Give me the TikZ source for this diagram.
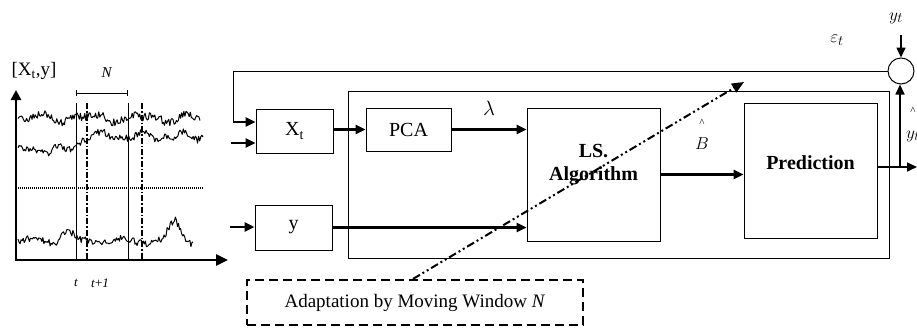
\documentclass[tikz,border=0pt]{standalone}
\usepackage{fontspec}
\setmainfont{Liberation Serif}
\usetikzlibrary{arrows.meta}
\newcommand\setfs[1]{\fontsize{#1}{#1}\selectfont}
\begin{document}
\begin{tikzpicture}[x=1pt,y=-1pt,
  thinln/.style={line width=1pt},
  thickln/.style={line width=2.4pt},
  midln/.style={line width=1.6pt},
  tip/.style={-{Triangle[length=10pt,width=9pt]}},
  blk/.style={draw, line width=1pt, inner sep=0pt, font=\setfs{20}},
  boldblk/.style={blk, font=\bfseries\fontsize{20}{23}\selectfont},
  dashdotln/.style={line width=2pt, dash pattern=on 8pt off 3pt on 2pt off 3pt on 2pt off 3pt},
  winln/.style={line width=1.5pt, dash pattern=on 6pt off 2pt on 1.5pt off 2pt},
  sig/.style={line width=1pt, line join=round}]
\useasboundingbox (0,0) rectangle (917,330);

% ---- time series panel ----
\pgfmathsetseed{11}
\draw[line width=2.6pt, -{Triangle[length=10pt,width=10pt]}] (16,261) -- (16,90);
\draw[line width=2.6pt, -{Triangle[length=12pt,width=11pt]}] (15,260) -- (228,260);
\draw[line width=1.2pt, dash pattern=on 1pt off 1pt] (18,188) -- (204,188);
\draw[sig] plot[domain=18:200, samples=170]
  (\x,{118+3*sin(7*\x)+2*sin(13*\x+40)+4*rand});
\draw[sig] plot[domain=18:203, samples=170]
  (\x,{143-7*max(-1,min(1,(\x-78)/10))+2.5*sin(9*\x+70)+2*sin(17*\x)+3.5*rand});
\draw[sig] plot[domain=18:193, samples=170]
  (\x,{241-12*max(0,1-abs(\x-67)/10)-22*max(0,1-abs(\x-175)/12)+2.5*sin(8*\x+20)+3.5*rand});
\draw[thinln] (76,103) -- (76,260);
\draw[thinln] (128,103) -- (128,260);
\draw[winln] (87,103) -- (87,260);
\draw[winln] (142,103) -- (142,260);
\draw[thinln, {Bar[width=6pt]}-{Bar[width=6pt]}] (76,93) -- (128,93);
\node[font=\setfs{15}] (nlbl) at (107,73) {\textit{N}};
\node[font=\setfs{19}] (axlbl) at (34,71) {[X\textsubscript{t},y]};
\node[font=\setfs{13}] (tlbl) at (76,283) {\textit{t}};
\node[font=\setfs{13}] (t1lbl) at (100,283) {\textit{t}+\textit{1}};

% ---- block diagram ----
\node[blk, minimum width=541pt, minimum height=167pt] (frame) at (618.5,174.5) {};
\node[blk, minimum width=77pt, minimum height=44pt] (xt) at (294.5,131) {X\textsubscript{t}};
\node[blk, minimum width=77pt, minimum height=45pt] (yb) at (293.5,227.5) {y};
\node[blk, minimum width=85pt, minimum height=43pt] (pca) at (408.5,129.5) {PCA};
\node[boldblk, minimum width=133pt, minimum height=133pt] (ls) at (593.5,174.5)
  {\raisebox{5pt}[0pt][0pt]{\begin{tabular}{@{}c@{}}LS.\\Algorithm\end{tabular}}};
\node[boldblk, minimum width=133pt, minimum height=135pt] (pred) at (810.5,170.5)
  {\raisebox{1.5pt}[0pt][0pt]{Prediction}};
\node[draw, circle, line width=1pt, minimum size=26pt, inner sep=0pt] (sum) at (901,71) {};
\node[draw, line width=2.2pt, dash pattern=on 9pt off 5pt, inner sep=0pt,
      minimum width=336pt, minimum height=45pt, font=\setfs{19}] (adapt) at (415,302.5)
  {Adaptation by Moving Window \textit{N}};

% feedback and inputs
\coordinate (fbk) at (233,122);
\coordinate (inx) at (231,143);
\coordinate (iny) at (230,227);
\draw[thinln] (sum.west) -| (fbk);
\draw[thickln, tip] (fbk) -- (fbk -| xt.west);
\draw[thickln, tip] (inx) -- (inx -| xt.west);
\draw[thickln, tip] (iny) -- (iny -| yb.west);

% signal flow
\draw[thickln, tip] (xt.east |- pca.west) -- (pca.west);
\draw[thickln, tip] (pca.east) -- (pca.east -| ls.west);
\draw[thickln, tip] (yb.east) -- (yb.east -| ls.west);
\draw[thickln, tip] (ls.east) -- (ls.east -| pred.west);

% output and error
\coordinate (br) at (900,167);
\coordinate (outend) at (917,167);
\coordinate (ytin) at (901,35);
\draw[midln, tip] (pred.east |- br) -- (outend);
\draw[midln, tip] (br) -- (br |- sum.south);
\draw[midln, tip] (ytin) -- (sum.north);

% adaptation arrow
\coordinate (dtip) at (744,82);
\draw[dashdotln, -{Triangle[length=12pt,width=10pt]}] ([xshift=-2pt]adapt.north) -- (dtip);

% labels
\node[font=\setfs{22}] (lam) at (489,108) {$\lambda$};
\node[font=\setfs{18}] (blbl) at (702,144) {$B$};
\node[font=\setfs{11}, inner sep=0pt, anchor=north] (bhat) at (702,119) {\^{}};
\node[font=\setfs{19}] (yhat) at (913,136) {$y_t$};
\node[font=\setfs{11}, inner sep=0pt, anchor=north] (yhathat) at (913,107) {\^{}};
\node[font=\setfs{19}] (ytl) at (896,18) {$y_t$};
\node[font=\setfs{19}] (eps) at (837,40) {$\varepsilon_t$};
\end{tikzpicture}
\end{document}
